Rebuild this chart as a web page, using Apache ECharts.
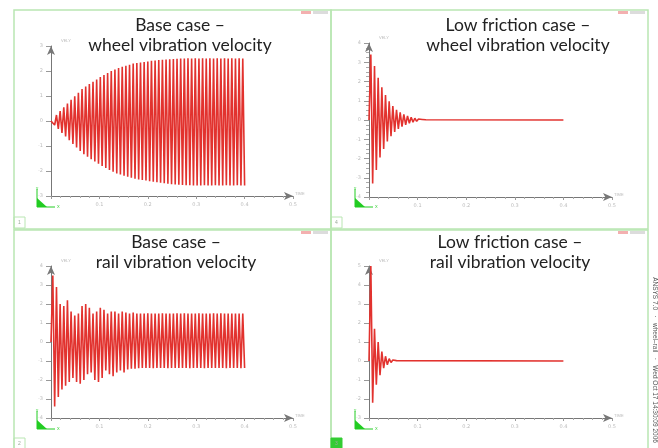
<!DOCTYPE html>
<html>
<head>
<meta charset="utf-8">
<title>vibration velocity</title>
<script src="https://cdn.jsdelivr.net/npm/echarts@6/dist/echarts.min.js"></script>
<style>
html, body { margin: 0; padding: 0; background: #fff; }
#main { width: 658px; height: 448px; }
</style>
</head>
<body>
<div id="main"></div>
<script>
// panel titles (two lines each)
var titles = [
  ['Base case \u2013', 'wheel vibration velocity'],
  ['Low friction case \u2013', 'wheel vibration velocity'],
  ['Base case \u2013', 'rail vibration velocity'],
  ['Low friction case \u2013', 'rail vibration velocity']
];

// time axis
var timeTicks = [0, 0.1, 0.2, 0.3, 0.4, 0.5];
var timeStep = 0.4 / 106;   // half period of the oscillation
var timeEnd = 0.4;

// y tick labels of each panel
var wheelBaseTicks = [-3, -2, -1, 0, 1, 2, 3];
var wheelLowTicks = [-4, -3, -2, -1, 0, 1, 2, 3, 4];
var railBaseTicks = [-4, -3, -2, -1, 0, 1, 2, 3, 4];
var railLowTicks = [-3, -2, -1, 0, 1, 2, 3, 4, 5];

// peak values, one every half period
var wheelBase = [
  0, 0.08, -0.16, 0.24, -0.32, 0.40, -0.48, 0.55, -0.62, 0.70,
  -0.77, 0.85, -0.92, 0.99, -1.06, 1.13, -1.20, 1.28, -1.33, 1.38,
  -1.43, 1.48, -1.53, 1.57, -1.62, 1.66, -1.71, 1.76, -1.80, 1.84,
  -1.88, 1.92, -1.96, 2.00, -2.03, 2.06, -2.10, 2.12, -2.14, 2.17,
  -2.19, 2.21, -2.23, 2.25, -2.27, 2.30, -2.31, 2.32, -2.34, 2.34,
  -2.36, 2.36, -2.38, 2.38, -2.41, 2.41, -2.43, 2.42, -2.45, 2.44,
  -2.47, 2.45, -2.49, 2.46, -2.51, 2.47, -2.53, 2.48, -2.54, 2.49,
  -2.55, 2.50, -2.56, 2.50, -2.57, 2.51, -2.57, 2.50, -2.58, 2.51,
  -2.58, 2.50, -2.58, 2.51, -2.57, 2.50, -2.58, 2.51, -2.58, 2.50,
  -2.57, 2.51, -2.58, 2.50, -2.58, 2.51, -2.57, 2.50, -2.58, 2.51,
  -2.58, 2.50, -2.57, 2.51, -2.58, 2.50, -2.58
];
var wheelLow = [
  0, 3.4, -3.3, 2.8, -2.6, 2.2, -1.95, 1.7, -1.5, 1.3,
  -1.12, 0.97, -0.84, 0.72, -0.62, 0.53, -0.46, 0.40, -0.34, 0.29,
  -0.25, 0.21, -0.17, 0.14, -0.11, 0.09, -0.07, 0.05, -0.04, 0.03,
  -0.02, 0.01, 0
];
var railBase = [
  0, 3.5, -3.4, 2.9, -2.9, 2.0, -2.5, 1.9, -2.3, 2.2,
  -2.1, 1.6, -1.9, 1.4, -2.1, 1.5, -2.2, 1.9, -2.0, 2.0,
  -1.7, 1.8, -1.6, 1.5, -2.0, 1.6, -2.1, 1.8, -1.9, 1.7,
  -1.5, 1.5, -1.7, 1.6, -1.8, 1.6, -1.6, 1.5, -1.5, 1.6,
  -1.6, 1.55, -1.45, 1.5, -1.4, 1.55, -1.4, 1.5, -1.38, 1.5,
  -1.37, 1.5, -1.37, 1.51, -1.37, 1.5, -1.38, 1.5, -1.37, 1.5,
  -1.37, 1.51, -1.37, 1.5, -1.38, 1.5, -1.37, 1.5, -1.37, 1.51,
  -1.37, 1.5, -1.37, 1.51, -1.37, 1.5, -1.38, 1.5, -1.37, 1.5,
  -1.37, 1.51, -1.37, 1.5, -1.38, 1.5, -1.37, 1.5, -1.37, 1.51,
  -1.37, 1.5, -1.37, 1.51, -1.37, 1.5, -1.38, 1.5, -1.37, 1.5,
  -1.37, 1.5, -1.37, 1.5, -1.38, 1.5, -1.37
];
var railLow = [
  0, 5.0, -2.2, 1.7, -1.25, 1.0, -0.75, 0.5, -0.38, 0.25,
  -0.2, 0.12, -0.08, 0.05, -0.03, 0.02, 0
];

var myChart = echarts.init(document.getElementById('main'));

function toPoints(vals, flatTail) {
  var pts = vals.map(function (v, i) { return [i * timeStep, v]; });
  if (flatTail) pts.push([timeEnd, 0]);
  return pts;
}

var grids = [
  { left: 51, top: 46, width: 242, height: 150 },
  { left: 369, top: 43, width: 243, height: 154 },
  { left: 51, top: 266, width: 242, height: 152 },
  { left: 369, top: 266, width: 243, height: 152 }
];
var yTicks = [wheelBaseTicks, wheelLowTicks, railBaseTicks, railLowTicks];
var seriesData = [toPoints(wheelBase), toPoints(wheelLow, true), toPoints(railBase), toPoints(railLow, true)];

var tinyLabel = { fontSize: 5, color: '#bbb', fontFamily: 'DejaVu Sans' };

var xAxes = grids.map(function (g, i) {
  return {
    type: 'value', gridIndex: i,
    min: timeTicks[0], max: timeTicks[timeTicks.length - 1], interval: 0.1,
    name: 'TIME', nameGap: 2, nameTextStyle: { fontSize: 4, color: '#bbb', verticalAlign: 'bottom' },
    axisLine: { onZero: false, symbol: ['none', 'arrow'], symbolSize: [6, 9], lineStyle: { color: '#777', width: 1 } },
    axisTick: { length: 3, lineStyle: { color: '#999' } },
    minorTick: { show: true, splitNumber: 5, length: 2, lineStyle: { color: '#aaa' } },
    splitLine: { show: false },
    axisLabel: Object.assign({ margin: 6, formatter: function (v) { return v === 0 ? '' : String(v); } }, tinyLabel)
  };
});

var yAxes = grids.map(function (g, i) {
  var t = yTicks[i];
  return {
    type: 'value', gridIndex: i,
    min: t[0], max: t[t.length - 1], interval: 1,
    name: 'VELY', nameGap: 3, nameTextStyle: { fontSize: 4, color: '#bbb', align: 'left', padding: [0, 0, 0, 10] },
    axisLine: { show: true, onZero: false, symbol: ['none', 'arrow'], symbolSize: [6, 9], lineStyle: { color: '#777', width: 1 } },
    axisTick: { show: true, length: 5, lineStyle: { color: '#999' } },
    minorTick: { show: i === 1, splitNumber: 4, length: 3, lineStyle: { color: '#aaa' } },
    splitLine: { show: false },
    axisLabel: Object.assign({ margin: 8 }, tinyLabel)
  };
});

var series = seriesData.map(function (d, i) {
  return {
    type: 'line', xAxisIndex: i, yAxisIndex: i,
    data: d, showSymbol: false, silent: true,
    lineStyle: { color: '#e2322e', width: 1.6 }
  };
});

// decorations: panel frames, titles, triads, panel numbers, side stamp
var green = '#b9e6b2';
var frames = [[14, 10, 317, 219], [331, 10, 317, 219], [14, 230, 317, 220], [331, 230, 317, 220]];
var origins = [[51, 196], [369, 196], [51, 418], [369, 418]];
var titleCenters = [[180, 25], [518, 25], [176, 242], [510, 242]];
var panelNumbers = ['1', '4', '2', '3'];

var graphics = [];
frames.forEach(function (f, i) {
  graphics.push({ type: 'rect', shape: { x: f[0], y: f[1], width: f[2], height: f[3] }, style: { fill: 'none', stroke: green, lineWidth: 1.5 }, z: 1 });
  var filled = i === 3;
  graphics.push({ type: 'rect', shape: { x: f[0], y: f[1] + f[3] - 12, width: 11, height: 11 }, style: { fill: filled ? '#33cc33' : 'none', stroke: filled ? '#33cc33' : green, lineWidth: 1 }, z: 2 });
  graphics.push({ type: 'text', x: f[0] + 5.5, y: f[1] + f[3] - 6.5, style: { text: panelNumbers[i], fontSize: 5, fill: '#9a9', textAlign: 'center', textVerticalAlign: 'middle' }, z: 3 });
  graphics.push({ type: 'rect', shape: { x: f[0] + f[2] - 30, y: f[1] + 1, width: 10, height: 3 }, style: { fill: '#f3b0b0' }, z: 2 });
  graphics.push({ type: 'rect', shape: { x: f[0] + f[2] - 18, y: f[1] + 1, width: 15, height: 3 }, style: { fill: '#dcdcdc' }, z: 2 });
});
titles.forEach(function (t, i) {
  var c = titleCenters[i];
  graphics.push({ type: 'text', x: c[0], y: c[1], style: { text: t[0], font: '17.5px Lato', fill: '#222', textAlign: 'center', textVerticalAlign: 'middle' }, z: 10 });
  graphics.push({ type: 'text', x: c[0], y: c[1] + 20, style: { text: t[1], font: '17.5px Lato', fill: '#222', textAlign: 'center', textVerticalAlign: 'middle' }, z: 10 });
});
origins.forEach(function (o) {
  var ox = o[0], oy = o[1];
  graphics.push({ type: 'polyline', shape: { points: [[ox - 14, oy - 7], [ox - 14, oy + 11], [ox + 4, oy + 11]] }, style: { stroke: '#22cc22', lineWidth: 1, fill: 'none' }, z: 5 });
  graphics.push({ type: 'polygon', shape: { points: [[ox - 14, oy + 2], [ox - 14, oy + 11], [ox - 4, oy + 11]] }, style: { fill: '#22cc22' }, z: 5 });
  graphics.push({ type: 'text', x: ox - 14, y: oy - 9, style: { text: 'Y', fontSize: 4, fill: '#22cc22', textAlign: 'center' }, z: 5 });
  graphics.push({ type: 'text', x: ox + 6, y: oy + 9, style: { text: 'X', fontSize: 4, fill: '#22cc22' }, z: 5 });
});
graphics.push({
  type: 'text', x: 655, y: 360, rotation: -Math.PI / 2,
  style: { text: 'ANSYS 7.0   ·   wheel\u2013rail   ·   Wed Oct 17 14:30:09 2006', fontSize: 6.5, fill: '#555', textAlign: 'center', textVerticalAlign: 'middle' },
  z: 5
});

var option = {
  backgroundColor: '#fff',
  animation: false,
  grid: grids,
  xAxis: xAxes,
  yAxis: yAxes,
  series: series,
  graphic: graphics
};

myChart.setOption(option);
</script>
</body>
</html>
